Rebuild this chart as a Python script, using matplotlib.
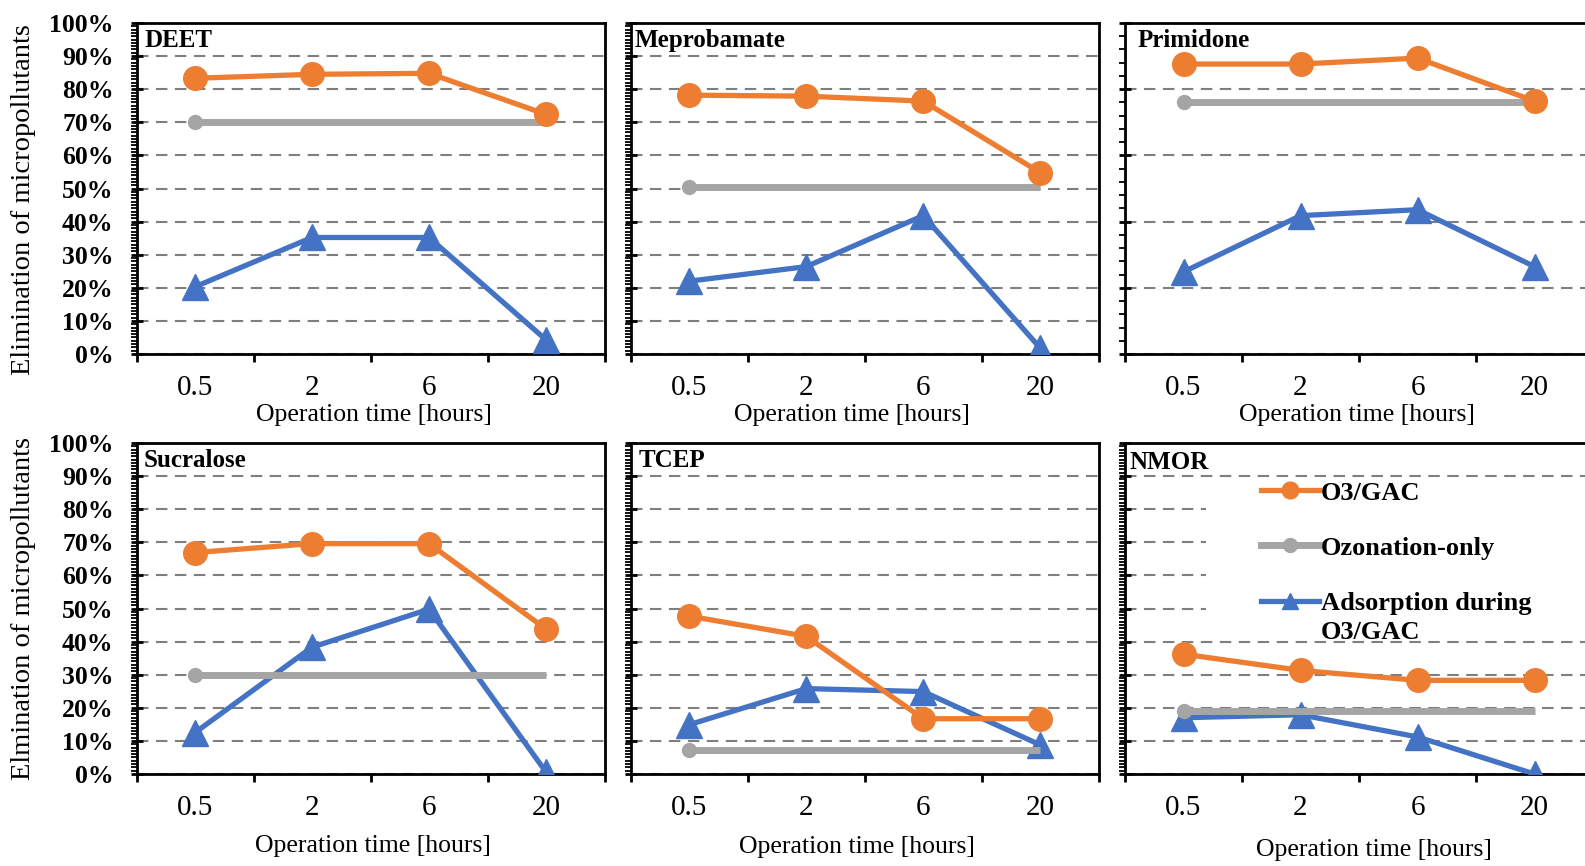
import numpy as np
import matplotlib
matplotlib.use('Agg')
import matplotlib.pyplot as plt
from matplotlib.lines import Line2D
from matplotlib.patches import Rectangle
from matplotlib.ticker import MultipleLocator

plt.rcParams['font.family'] = ['Liberation Serif', 'DejaVu Serif']

# ---------------- data ----------------
times = ['0.5', '2', '6', '20']
compounds = ['DEET', 'Meprobamate', 'Primidone', 'Sucralose', 'TCEP', 'NMOR']
series_names = ['O3/GAC', 'Ozonation-only', 'Adsorption during', 'O3/GAC']

deet_o3gac = [83.3, 84.5, 84.8, 72.4]
deet_ozonation = [70.0, 70.0, 70.0, 70.0]
deet_adsorption = [20.3, 35.2, 35.2, 4.3]

meprobamate_o3gac = [78.2, 77.9, 76.4, 54.8]
meprobamate_ozonation = [50.6, 50.6, 50.6, 50.6]
meprobamate_adsorption = [22.0, 26.4, 41.8, 1.8]

primidone_o3gac = [87.6, 87.6, 89.4, 76.4]
primidone_ozonation = [76.0, 76.0, 76.0, 76.0]
primidone_adsorption = [24.8, 41.8, 43.6, 26.4]

sucralose_o3gac = [66.9, 69.6, 69.6, 43.8]
sucralose_ozonation = [30.0, 30.0, 30.0, 30.0]
sucralose_adsorption = [12.5, 38.3, 49.8, 0.6]

tcep_o3gac = [47.7, 41.6, 16.7, 16.7]
tcep_ozonation = [7.2, 7.2, 7.2, 7.2]
tcep_adsorption = [14.9, 25.8, 24.9, 8.8]

nmor_o3gac = [36.2, 31.3, 28.3, 28.3]
nmor_ozonation = [19.0, 19.0, 19.0, 19.0]
nmor_adsorption = [17.0, 17.9, 11.2, 0.0]

o3gac = [deet_o3gac, meprobamate_o3gac, primidone_o3gac,
         sucralose_o3gac, tcep_o3gac, nmor_o3gac]
ozonation = [deet_ozonation, meprobamate_ozonation, primidone_ozonation,
             sucralose_ozonation, tcep_ozonation, nmor_ozonation]
adsorption = [deet_adsorption, meprobamate_adsorption, primidone_adsorption,
              sucralose_adsorption, tcep_adsorption, nmor_adsorption]

ylabels = ['Elimination of micropollutants', 'Elmination of micropollutants']

# ---------------- style ----------------
C_OR = '#ED7D31'
C_GR = '#A5A5A5'
C_BL = '#4472C4'
W, H = 1585, 866

fig = plt.figure(figsize=(W / 100, H / 100), dpi=100)

lefts = [136.5, 630.7, 1125.0]
rows = [(23.0, 354.0), (443.0, 774.0)]
aw = 468.0
title_off = [(8, 6), (4, 6), (13, 6), (7, 6), (8, 6), (4, 8)]
xlab_pos = [(374, 415), (852, 415), (1357, 415), (373, 846), (857, 847), (1374, 850)]

x = np.arange(len(times)) + 0.5

for i, name in enumerate(compounds):
    r, c = divmod(i, 3)
    top, bot = rows[r]
    ax = fig.add_axes([lefts[c] / W, 1 - bot / H, aw / W, (bot - top) / H])
    ax.set_xlim(0, len(times))
    ax.set_ylim(0, 100)

    ax.plot(x, adsorption[i], color=C_BL, lw=3.8, marker='^', ms=19,
            zorder=3, solid_joinstyle='round')
    ax.plot(x, ozonation[i], color=C_GR, lw=5.0, marker='o', ms=10,
            markevery=[0], zorder=4, solid_capstyle='butt')
    ax.plot(x, o3gac[i], color=C_OR, lw=3.8, marker='o', ms=17,
            zorder=5, solid_joinstyle='round')

    major = 20 if name == 'Primidone' else 10
    minor = 4 if name == 'Primidone' else 1
    ax.yaxis.set_major_locator(MultipleLocator(major))
    ax.yaxis.set_minor_locator(MultipleLocator(minor))
    ax.set_axisbelow(True)
    ax.yaxis.grid(True, which='major', color='#7f7f7f', lw=1.5,
                  linestyle=(0, (5.5, 3.6)))

    ax.set_xticks(np.arange(len(times) + 1))
    ax.set_xticklabels([])
    ax.set_xticks(x, minor=True)
    ax.set_xticklabels(times, minor=True, fontsize=21)
    ax.tick_params(axis='x', which='major', direction='out', length=6, width=2)
    ax.tick_params(axis='x', which='minor', length=0, pad=15)
    ax.tick_params(axis='y', which='major', direction='inout', length=9, width=2)
    ax.tick_params(axis='y', which='minor', direction='out', length=4, width=1.3)

    if c == 0:
        ax.set_yticklabels([f'{int(v)}%' for v in ax.get_yticks()],
                           fontsize=18.5, fontweight='bold')
        ax.tick_params(axis='y', which='major', pad=12)
    else:
        ax.set_yticklabels([])

    for sp in ax.spines.values():
        sp.set_linewidth(2.0)
        sp.set_color('black')

    dx, dy = title_off[i]
    ax.text(dx / aw, 1 - dy / (bot - top), name, transform=ax.transAxes,
            ha='left', va='top', fontsize=18, fontweight='bold')

    fx, fy = xlab_pos[i]
    fig.text(fx / W, 1 - fy / H, 'Operation time [hours]', ha='center',
             va='center', fontsize=18.5)

    if name == 'NMOR':
        ax.add_patch(Rectangle((0.173, 0.43), 0.9, 0.46, transform=ax.transAxes,
                               facecolor='white', edgecolor='none', zorder=1))
        handles = [
            Line2D([], [], color=C_OR, lw=3.8, marker='o', ms=12),
            Line2D([], [], color=C_GR, lw=5.0, marker='o', ms=10),
            Line2D([], [], color=C_BL, lw=3.8, marker='^', ms=12),
        ]
        leg = ax.legend(handles, series_names[:3], loc='upper left',
                        bbox_to_anchor=(0.29, 0.885), frameon=False,
                        prop={'weight': 'bold', 'size': 19},
                        handlelength=2.2, handletextpad=0.08,
                        labelspacing=1.2, borderaxespad=0, borderpad=0)
        fig.canvas.draw()
        t3 = leg.get_texts()[2]
        bb = t3.get_window_extent()
        inv = fig.transFigure.inverted()
        x0, y0 = inv.transform((bb.x0, bb.y0))
        fig.text(x0, y0 - 0.007, series_names[3], ha='left', va='top',
                 fontsize=19, fontweight='bold')

fig.text(24 / W, 1 - 200 / H, ylabels[0], rotation=90, ha='center',
         va='center', fontsize=20.5)
fig.text(24 / W, 1 - 609 / H, ylabels[1], rotation=90, ha='center',
         va='center', fontsize=20.5)

fig.savefig('out.png', dpi=100)
